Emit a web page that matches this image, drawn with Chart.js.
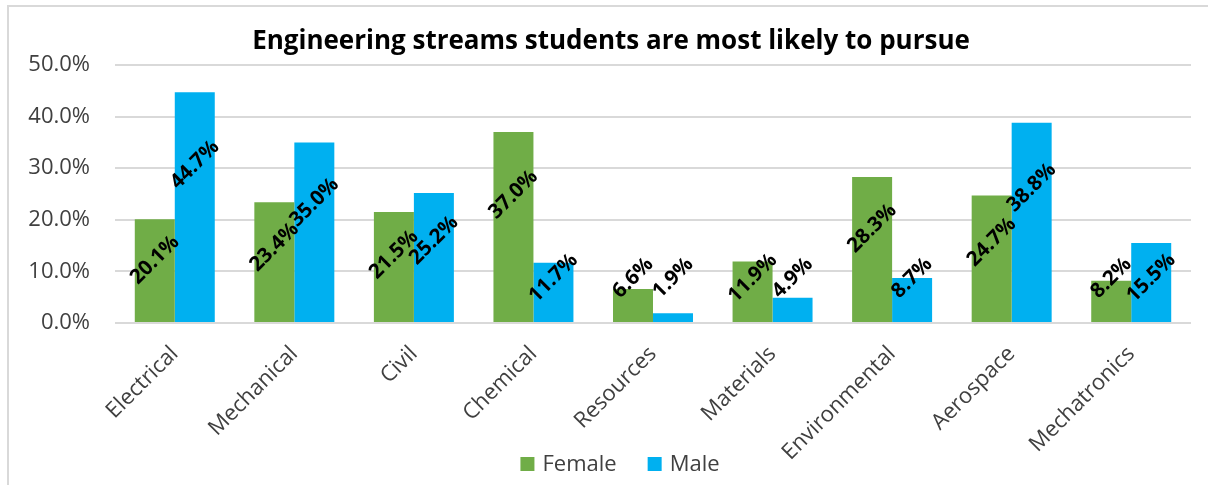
<!DOCTYPE html>
<html>
<head>
<meta charset="utf-8">
<style>
  html, body { margin: 0; padding: 0; background: #ffffff; }
  #wrap { width: 1208px; height: 485px; }
</style>
<script src="https://cdn.jsdelivr.net/npm/chart.js@4.4.1/dist/chart.umd.min.js"></script>
</head>
<body>
<div id="wrap"><canvas id="c" width="1208" height="485"></canvas></div>
<script>
// Engineering streams and share of students likely to pursue each (percent)
const streams = ['Electrical', 'Mechanical', 'Civil', 'Chemical', 'Resources', 'Materials', 'Environmental', 'Aerospace', 'Mechatronics'];
const female = [20.1, 23.4, 21.5, 37.0, 6.6, 11.9, 28.3, 24.7, 8.2];
const male = [44.7, 35.0, 25.2, 11.7, 1.9, 4.9, 8.7, 38.8, 15.5];
const yTicks = [0, 10, 20, 30, 40, 50];
const seriesNames = ['Female', 'Male'];
const seriesColors = ['#70AD47', '#00B0F0'];
const chartTitle = 'Engineering streams students are most likely to pursue';

const FONT = "'Open Sans', 'DejaVu Sans', sans-serif";
Chart.defaults.font.family = FONT;

const pct = v => Number(v).toFixed(1) + '%';

// White background, light frame and the heading
const framePlugin = {
  id: 'frame',
  beforeDraw(chart) {
    const ctx = chart.ctx;
    ctx.save();
    ctx.fillStyle = '#ffffff';
    ctx.fillRect(0, 0, chart.width, chart.height);
    ctx.strokeStyle = '#d9d9d9';
    ctx.lineWidth = 2;
    ctx.strokeRect(8, 6, chart.width + 50, chart.height + 50);
    ctx.font = 'bold 26px ' + FONT;
    ctx.fillStyle = '#000000';
    ctx.textAlign = 'center';
    ctx.textBaseline = 'middle';
    ctx.fillText(chartTitle, 611, 42);
    ctx.restore();
  }
};

// Rotated value labels on each bar
const valueLabels = {
  id: 'valueLabels',
  afterDatasetsDraw(chart) {
    const ctx = chart.ctx;
    ctx.save();
    ctx.font = 'bold 20.5px ' + FONT;
    ctx.fillStyle = '#000000';
    ctx.textAlign = 'center';
    ctx.textBaseline = 'middle';
    chart.data.datasets.forEach((ds, di) => {
      const meta = chart.getDatasetMeta(di);
      meta.data.forEach((bar, i) => {
        const h = bar.base - bar.y;
        const lift = Math.max(0.75 * h - 15, 44);
        ctx.save();
        ctx.translate(bar.x, bar.base - lift);
        ctx.rotate(-Math.PI / 4);
        ctx.fillText(pct(ds.data[i]), 0, 0);
        ctx.restore();
      });
    });
    ctx.restore();
  }
};

// Legend below the category labels
const bottomLegend = {
  id: 'bottomLegend',
  afterDraw(chart) {
    const ctx = chart.ctx;
    ctx.save();
    ctx.font = '22px ' + FONT;
    ctx.textBaseline = 'middle';
    ctx.textAlign = 'left';
    const box = 14, gap = 8, itemGap = 31, cy = 464;
    const items = chart.data.datasets.map(d => ({ label: d.label, color: d.backgroundColor }));
    const widths = items.map(it => box + gap + ctx.measureText(it.label).width);
    const total = widths.reduce((a, b) => a + b, 0) + itemGap * (items.length - 1);
    let x = 620 - total / 2;
    items.forEach((it, k) => {
      ctx.fillStyle = it.color;
      ctx.fillRect(x, cy - box / 2, box, box);
      ctx.fillStyle = '#404040';
      ctx.fillText(it.label, x + box + gap, cy + 1);
      x += widths[k] + itemGap;
    });
    ctx.restore();
  }
};

new Chart(document.getElementById('c'), {
  type: 'bar',
  data: {
    labels: streams,
    datasets: [
      { label: seriesNames[0], data: female, backgroundColor: seriesColors[0] },
      { label: seriesNames[1], data: male, backgroundColor: seriesColors[1] }
    ]
  },
  options: {
    responsive: false,
    animation: false,
    devicePixelRatio: 1,
    layout: { padding: { top: 65, left: 8, right: 17, bottom: 0 } },
    datasets: { bar: { categoryPercentage: 0.669, barPercentage: 1.0 } },
    plugins: {
      legend: { display: false },
      tooltip: { enabled: false },
      title: { display: false }
    },
    scales: {
      x: {
        grid: { display: false, drawTicks: false },
        border: { display: false },
        ticks: {
          color: '#404040',
          font: { size: 22 },
          maxRotation: 45,
          minRotation: 45,
          padding: 18
        },
        afterFit(scale) { scale.height = 162; }
      },
      y: {
        min: yTicks[0],
        max: yTicks[yTicks.length - 1],
        afterBuildTicks(scale) { scale.ticks = yTicks.map(v => ({ value: v })); },
        grid: { color: '#d9d9d9', lineWidth: 2, drawTicks: false },
        border: { display: false },
        ticks: {
          color: '#404040',
          font: { size: 22 },
          padding: 25,
          callback: v => pct(v)
        },
        afterFit(scale) { scale.width = 107; }
      }
    }
  },
  plugins: [framePlugin, valueLabels, bottomLegend]
});
</script>
</body>
</html>
